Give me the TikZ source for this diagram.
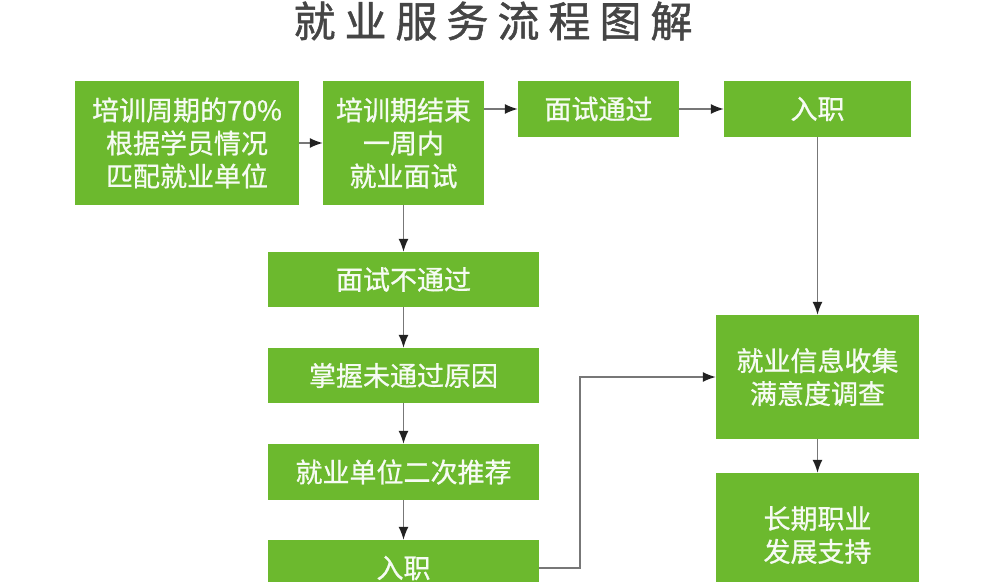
\documentclass[tikz,border=0pt]{standalone}
\usepackage{fontspec}
\usepackage{xcolor}
\usepackage{tikz}
\newfontfamily\cjk[FakeBold=0.8]{Noto Sans CJK SC}
\newfontfamily\cjktitle[FakeBold=1.2]{Noto Sans CJK SC}
\definecolor{jobgreen}{HTML}{6CB92E}
\definecolor{linegray}{HTML}{777777}
\definecolor{tipgray}{HTML}{222222}
\definecolor{titlegray}{HTML}{454545}
\newcommand\tgap{\hspace{9pt}}
\usetikzlibrary{arrows.meta, positioning}

\begin{document}
\begin{tikzpicture}[x=1pt, y=-1pt,
  stepbox/.style={rectangle, fill=jobgreen, text=white!94!jobgreen, inner sep=0pt, align=center,
    font=\cjk\fontsize{27}{33}\selectfont},
  flow/.style={-{Latex[length=13pt,width=10pt,color=tipgray]}, draw=linegray, line width=1.5pt}]
\useasboundingbox (0,0) rectangle (982,581);
\clip (0,0) rectangle (982,581);
\fill[white] (0,0) rectangle (982,581);
% title
\node[text=titlegray, font=\cjktitle\fontsize{42}{46}\selectfont] (title) at (493,21)
  {就\tgap 业\tgap 服\tgap 务\tgap 流\tgap 程\tgap 图\tgap 解};
% top row
\node[stepbox, minimum width=224pt, minimum height=124pt] (match) at (187,143) {培训周期的70\%\\根据学员情况\\匹配就业单位};
\node[stepbox, minimum width=161pt, minimum height=124pt] (interview) at (403.5,143) {培训期结束\\一周内\\就业面试};
\node[stepbox, minimum width=161pt, minimum height=56pt] (pass) at (598.5,109) {面试通过};
\node[stepbox, minimum width=187pt, minimum height=56pt] (hired) at (817.5,109) {入职};
% left column
\node[stepbox, minimum width=271pt, minimum height=55pt] (fail) at (403.5,279.5) {面试不通过};
\node[stepbox, minimum width=271pt, minimum height=55pt] (reason) at (403.5,375.5) {掌握未通过原因};
\node[stepbox, minimum width=271pt, minimum height=56pt] (again) at (403.5,472) {就业单位二次推荐};
\node[stepbox, minimum width=271pt, minimum height=56pt] (hiredtwo) at (403.5,568) {入职};
% right column
\node[stepbox, minimum width=203pt, minimum height=124pt] (survey) at (817.5,377) {就业信息收集\\满意度调查};
\node[stepbox, minimum width=203pt, minimum height=124pt] (career) at (817.5,535) {长期职业\\发展支持};
% connectors
\draw[flow] (match) -- (interview);
\draw[flow] (interview.east |- pass.west) -- (pass.west);
\draw[flow] (pass) -- (hired);
\draw[flow] (hired) -- (survey);
\draw[flow] (interview) -- (fail);
\draw[flow] (fail) -- (reason);
\draw[flow] (reason) -- (again);
\draw[flow] (again) -- (hiredtwo);
\draw[flow] (survey) -- (career);
\draw[flow] (hiredtwo.east) -- ++(41,0) |- (survey.west);
\end{tikzpicture}
\end{document}
